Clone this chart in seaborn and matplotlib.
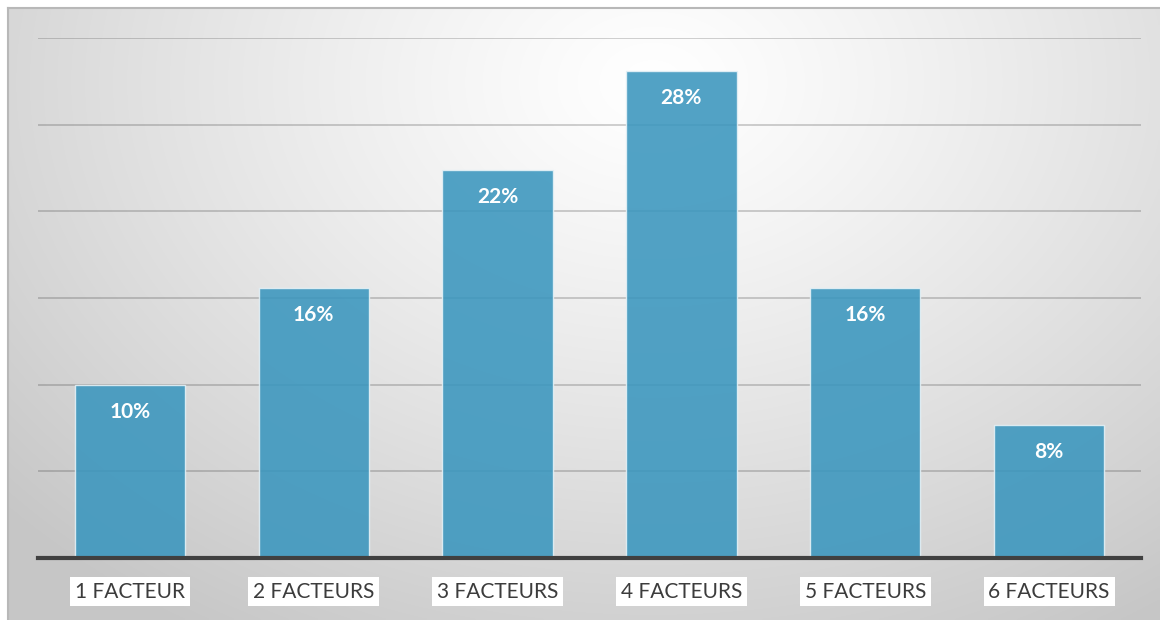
import numpy as np
import pandas as pd
import matplotlib
matplotlib.use("Agg")
import matplotlib.pyplot as plt
import seaborn as sns

categories = ["1 FACTEUR", "2 FACTEURS", "3 FACTEURS", "4 FACTEURS", "5 FACTEURS", "6 FACTEURS"]
values = [10.0, 15.6, 22.4, 28.1, 15.6, 7.7]
value_labels = ["10%", "16%", "22%", "28%", "16%", "8%"]
y_ticks = [0, 5, 10, 15, 20, 25, 30]

sns.set_theme(style="white")
plt.rcParams["font.family"] = ["Lato", "DejaVu Sans"]

W, H = 1160, 620
fig = plt.figure(figsize=(W / 100, H / 100), dpi=100)
fig.patch.set_facecolor("white")

# background radial gradient
bg = fig.add_axes([8 / W, 0, 1 - 8 / W, 1 - 8 / H], zorder=0)
gx = np.linspace(0, 1, 400)
gy = np.linspace(0, 1, 220)
X, Y = np.meshgrid(gx, gy)
cx, cy = 0.56, 0.12
d = np.sqrt(((X - cx) / 0.75) ** 2 + ((Y - cy) / 1.05) ** 2)
d = np.clip(d, 0, 1)
val = 1.0 - 0.22 * d ** 1.2
img = np.dstack([val, val, val])
bg.imshow(img, aspect="auto", extent=[0, 1, 1, 0], interpolation="bilinear")
bg.set_xlim(0, 1)
bg.set_ylim(1, 0)
bg.set_xticks([])
bg.set_yticks([])
for s in ["left", "top"]:
    bg.spines[s].set_color("#b8b8b8")
    bg.spines[s].set_linewidth(1.5)
for s in ["right", "bottom"]:
    bg.spines[s].set_visible(False)

ax = fig.add_axes([38 / W, 1 - 558 / H, (1141 - 38) / W, (558 - 38) / H], zorder=1)
ax.patch.set_alpha(0)

df = pd.DataFrame({"cat": categories, "val": values})
sns.barplot(data=df, x="cat", y="val", color="#3a96be", width=0.6, ax=ax,
            edgecolor="#e6f2f7", linewidth=1.0, alpha=0.88, zorder=3, saturation=1)

ax.set_ylim(0, 30)
ax.set_xlim(-0.5, len(categories) - 0.5)
ax.set_yticks(y_ticks)
ax.set_yticklabels([])
ax.tick_params(axis="y", length=0)
for t in y_ticks[1:]:
    ax.axhline(t, color="#3a3a3a", alpha=0.28, lw=1.2, zorder=1)

for s in ["left", "right", "top"]:
    ax.spines[s].set_visible(False)
ax.spines["bottom"].set_color("#404040")
ax.spines["bottom"].set_linewidth(3)
ax.spines["bottom"].set_zorder(5)

ax.set_xlabel("")
ax.set_ylabel("")
ax.tick_params(axis="x", length=0, pad=17)
ax.set_xticks(range(len(categories)))
ax.set_xticklabels(categories, fontsize=15, color="#3c3c3c")
for lbl in ax.get_xticklabels():
    lbl.set_bbox(dict(facecolor="white", edgecolor="none", pad=3.5))

for i, (v, lab) in enumerate(zip(values, value_labels)):
    ax.annotate(lab, xy=(i, v), xytext=(0, -27), textcoords="offset pixels",
                ha="center", va="center", color="white", fontsize=15, fontweight="bold", zorder=6)

fig.savefig("out.png", dpi=100)
